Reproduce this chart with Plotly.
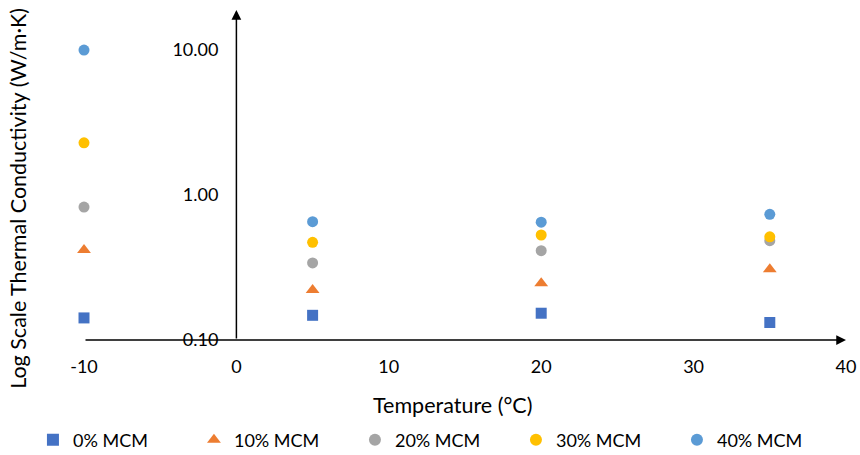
import plotly.graph_objects as go

temps = [-10, 5, 20, 35]
series_names = ["0% MCM", "10% MCM", "20% MCM", "30% MCM", "40% MCM"]
k_0 = [0.142, 0.148, 0.153, 0.132]
k_10 = [0.418, 0.221, 0.246, 0.308]
k_20 = [0.826, 0.340, 0.413, 0.484]
k_30 = [2.29, 0.472, 0.530, 0.515]
k_40 = [10.0, 0.655, 0.650, 0.736]
colors = ["#4472C4", "#ED7D31", "#A5A5A5", "#FFC000", "#5B9BD5"]
symbols = ["square", "triangle-up", "circle", "circle", "circle"]
y_tick_vals = [0.1, 1, 10]
y_tick_text = ["0.10", "1.00", "10.00"]
x_tick_vals = [-10, 0, 10, 20, 30, 40]
x_tick_text = ["-10", "0", "10", "20", "30", "40"]

FONT = "Lato"
fig = go.Figure()
for name, vals, c, s in zip(series_names, [k_0, k_10, k_20, k_30, k_40], colors, symbols):
    fig.add_trace(go.Scatter(x=temps, y=vals, mode="markers", name=name, cliponaxis=False,
                             marker=dict(color=c, symbol=s, size=11 if s != "triangle-up" else 12,
                                         line=dict(width=0))))

ymin_log = -1
ymax_log = 1.276
fig.update_layout(
    width=860, height=455,
    margin=dict(l=84, r=14, t=10, b=115, autoexpand=False),
    plot_bgcolor="white", paper_bgcolor="white",
    font=dict(family=FONT, size=18, color="#000000"),
    showlegend=True,
    legend=dict(orientation="h", x=-0.067, xref="paper", xanchor="left",
                y=-0.303, yanchor="middle",
                entrywidth=116, entrywidthmode="pixels", font=dict(size=18),
                itemsizing="constant", traceorder="normal"),
    xaxis=dict(range=[-10, 40], tickvals=x_tick_vals, ticktext=x_tick_text,
               showgrid=False, zeroline=False,
               showline=False, ticks="", ticklabelstandoff=14),
    yaxis=dict(type="log", range=[ymin_log, ymax_log], tickvals=y_tick_vals, ticktext=y_tick_text,
               showgrid=False, zeroline=False, showline=False, ticks="",
               anchor="free", position=(0 - (-10)) / 50, ticklabelstandoff=18),
)
# axis lines with arrows
fig.add_annotation(x=40, y=ymin_log, ax=-10, ay=ymin_log, xref="x", yref="y", axref="x", ayref="y",
                   text="", showarrow=True, arrowhead=2, arrowsize=1.3, arrowwidth=1.5, arrowcolor="black")
fig.add_annotation(x=0, y=ymax_log, ax=0, ay=ymin_log, xref="x", yref="y", axref="x", ayref="y",
                   text="", showarrow=True, arrowhead=2, arrowsize=1.3, arrowwidth=1.5, arrowcolor="black")
fig.add_annotation(text="Log Scale Thermal Conductivity (W/m·K)", textangle=-90, showarrow=False,
                   xref="paper", yref="paper", x=-0.087, y=0.43, xanchor="center", yanchor="middle",
                   font=dict(size=21.5))
fig.add_annotation(text="Temperature (°C)", showarrow=False,
                   xref="paper", yref="paper", x=0.483, y=-0.197, xanchor="center", yanchor="middle",
                   font=dict(size=21.5))
fig.write_html("out.html", config={"displayModeBar": False},
               post_script="document.body.style.margin='0';document.body.style.overflow='hidden';")
